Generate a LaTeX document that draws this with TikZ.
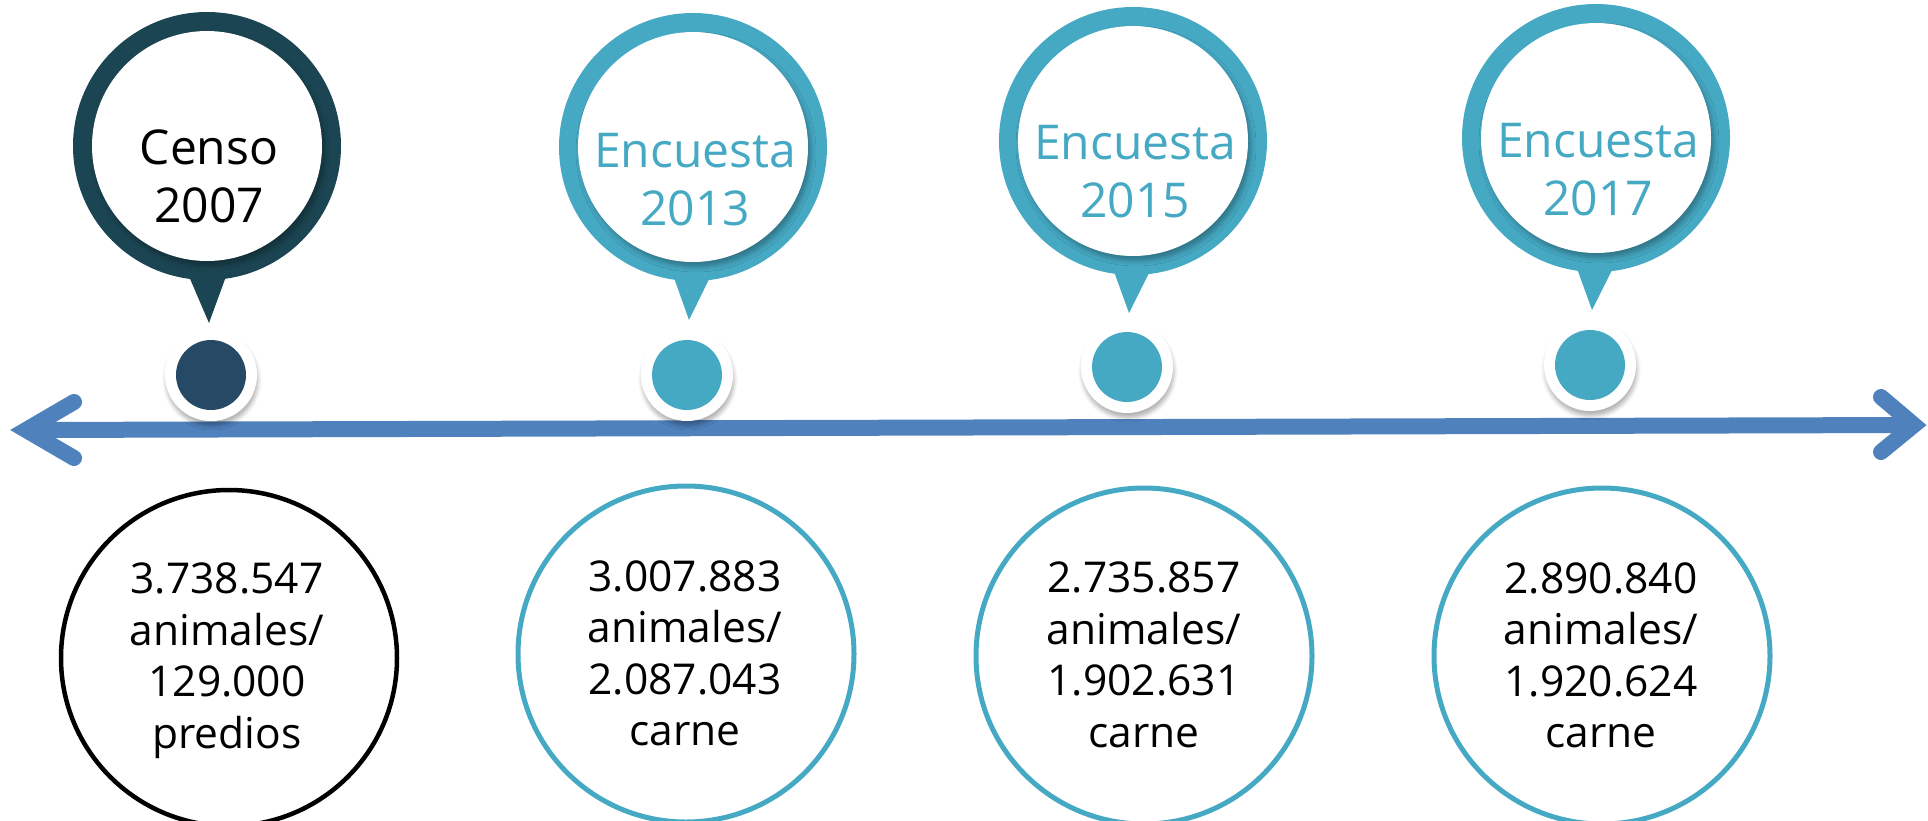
\documentclass[tikz,border=0pt]{standalone}
\usepackage{fontspec}
\setmainfont{Open Sans}
\usetikzlibrary{calc,shadows.blur}
\definecolor{darkring}{HTML}{1B4552}
\definecolor{darkdot}{HTML}{264A66}
\definecolor{tealc}{HTML}{46A9C4}
\definecolor{axisblue}{HTML}{4F81BD}
\begin{document}
\begin{tikzpicture}[x=1pt,y=-1pt,
  ring/.style={circle, fill=#1, minimum size=268pt, inner sep=0pt},
  face/.style={circle, fill=white, minimum size=230pt, inner sep=0pt,
    blur shadow={shadow xshift=3pt, shadow yshift=-5pt, shadow opacity=30, shadow blur radius=5pt}},
  dotbase/.style={circle, fill=white, minimum size=92pt, inner sep=0pt,
    blur shadow={shadow xshift=1pt, shadow yshift=-5pt, shadow opacity=30, shadow blur radius=4pt}},
  dotcore/.style={circle, fill=#1, minimum size=70pt, inner sep=0pt},
  pintext/.style={inner sep=0pt, anchor=north, align=center, font=\fontsize{48}{58}\selectfont},
  databox/.style={circle, draw=#1, line width=5pt, minimum size=336pt, inner sep=0pt},
  datatext/.style={inner sep=0pt, anchor=north, align=center, text=black, font=\fontsize{42.5}{51.5}\selectfont},
  axis/.style={draw=axisblue, line width=16pt},
  axishead/.style={draw=axisblue, line width=16pt, line cap=round, line join=miter}
]
\useasboundingbox (0,0) rectangle (1928,820);

% timeline axis
\coordinate (L) at (26,430);
\coordinate (R) at (1914,425);
\draw[axis] (L) -- (R);
\draw[axishead] (74,402) -- (L) -- (74,458);
\draw[axishead] (1881,397) -- (R) -- (1881,452);

% pins
\node[ring=darkring] (p1) at (207,146) {};
\node[ring=tealc] (p2) at (693,147) {};
\node[ring=tealc] (p3) at (1133,141) {};
\node[ring=tealc] (p4) at (1596,138) {};

\coordinate (tip1) at (209,323);
\coordinate (tip2) at (689,320);
\coordinate (tip3) at (1129,313);
\coordinate (tip4) at (1592,310);

\fill[darkring] ($(p1)+(-25,114)$) -- ($(p1)+(25,114)$) -- (tip1) -- cycle;
\fill[tealc] ($(p2)+(-25,114)$) -- ($(p2)+(25,114)$) -- (tip2) -- cycle;
\fill[tealc] ($(p3)+(-25,114)$) -- ($(p3)+(25,114)$) -- (tip3) -- cycle;
\fill[tealc] ($(p4)+(-25,114)$) -- ($(p4)+(25,114)$) -- (tip4) -- cycle;

\node[face] (f1) at (p1) {};
\node[face] (f2) at (p2) {};
\node[face] (f3) at (p3) {};
\node[face] (f4) at (p4) {};

\node[pintext, text=black] (l1) at (209,130) {Censo\\2007};
\node[pintext, text=tealc] (l2) at (695,133) {Encuesta\\2013};
\node[pintext, text=tealc] (l3) at (1135,125) {Encuesta\\2015};
\node[pintext, text=tealc] (l4) at (1598,123) {Encuesta\\2017};

% dots on the axis
\node[dotbase] (b1) at (211,375) {};
\node[dotbase] (b2) at (687,375) {};
\node[dotbase] (b3) at (1127,367) {};
\node[dotbase] (b4) at (1590,365) {};
\node[dotcore=darkdot] (c1) at (b1) {};
\node[dotcore=tealc] (c2) at (b2) {};
\node[dotcore=tealc] (c3) at (b3) {};
\node[dotcore=tealc] (c4) at (b4) {};

% data circles
\node[databox=black, line width=4.5pt] (k1) at (229,658) {};
\node[databox=tealc] (k2) at (686,654) {};
\node[databox=tealc] (k3) at (1144,656) {};
\node[databox=tealc] (k4) at (1602,656) {};

\node[datatext] (d1) at (227,563) {3.738.547\\animales/\\129.000\\predios};
\node[datatext] (d2) at (685,560) {3.007.883\\animales/\\2.087.043\\carne};
\node[datatext] (d3) at (1144,562) {2.735.857\\animales/\\1.902.631\\carne};
\node[datatext] (d4) at (1601,562) {2.890.840\\animales/\\1.920.624\\carne};
\end{tikzpicture}
\end{document}
